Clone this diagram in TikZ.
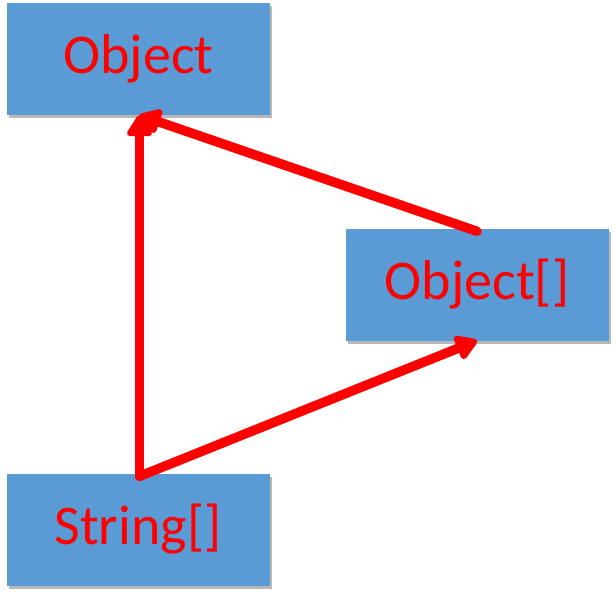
\documentclass[tikz,border=0pt]{standalone}
\usepackage{fontspec}
\setmainfont{Carlito}
\usepackage{xcolor}
\usetikzlibrary{arrows.meta,shadows}
\definecolor{boxblue}{HTML}{5B9BD5}
\definecolor{arrred}{HTML}{FF0000}
\begin{document}
\begin{tikzpicture}[x=1pt,y=-1pt]
\tikzstyle{typebox}=[fill=boxblue,draw=none,text=arrred,font=\fontsize{56}{60}\selectfont,
  minimum width=263pt,minimum height=112pt,inner sep=0pt,
  drop shadow={shadow xshift=2pt,shadow yshift=-3pt,fill=black!35,opacity=0.8}]
\tikzstyle{inherit}=[draw=arrred,line width=9.5pt,line cap=round,-{Triangle[length=24pt,width=28pt,round]}]
\useasboundingbox (0,0) rectangle (616,597);
\node [typebox] (obj) at (138.5,59) {Object};
\node [typebox] (objarr) at (477,284.5) {Object[]};
\node [typebox] (strarr) at (138,529.5) {String[]};
\coordinate (fork) at ([xshift=1.5pt,yshift=-3pt]strarr.north);
\draw [inherit] (fork) -- (fork |- obj.south);
\draw [inherit] (fork) -- (objarr.south);
\draw [inherit] ([yshift=-3pt]objarr.north) -- (fork |- obj.south);
\end{tikzpicture}
\end{document}
